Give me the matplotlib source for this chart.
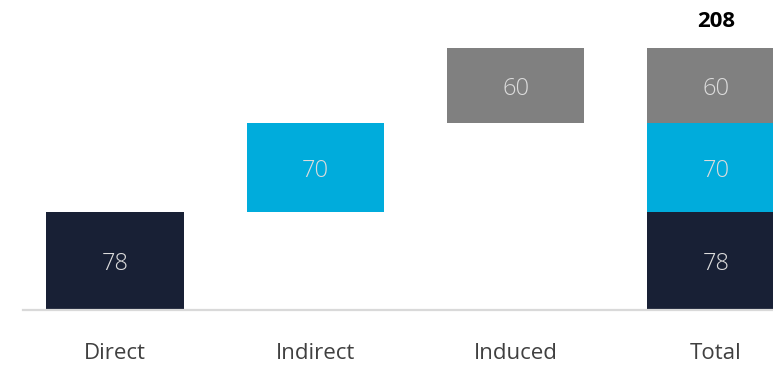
import matplotlib.pyplot as plt

# Data
categories = ["Direct", "Indirect", "Induced", "Total"]
direct = [78, 0, 0, 78]
indirect = [0, 70, 0, 70]
induced = [0, 0, 60, 60]
total = 208

plt.rcParams["font.family"] = ["Open Sans", "DejaVu Sans"]

colors = {"direct": "#182035", "indirect": "#00acdc", "induced": "#808080"}

fig = plt.figure(figsize=(7.73, 3.67), dpi=100)
ax = fig.add_axes([23 / 773, 57 / 367, 750 / 773, 310 / 367])

x = list(range(len(categories)))
w = 0.685

# Floating (waterfall) bars
bottoms_ind = [direct[0] if v else 0 for v in indirect]
bottoms_indu = [direct[0] + indirect[1] if v else 0 for v in induced]

series = [
    ("direct", direct, [0] * 4),
    ("indirect", indirect, bottoms_ind),
    ("induced", induced, bottoms_indu),
]
for key, vals, bots in series:
    for xi, v, b in zip(x, vals, bots):
        if v == 0:
            continue
        ax.bar(xi, v, bottom=b, width=w, color=colors[key], linewidth=0)
        ax.text(xi, b + v / 2, str(v), ha="center", va="center_baseline",
                color="#dcdcdc", fontsize=17, fontweight="light")

ax.text(3, total + 13, str(total), ha="center", va="bottom",
        fontsize=16, fontweight="bold", color="black")

ax.set_xlim(-0.459, 3.285)
ax.set_ylim(0, 246)
ax.set_xticks(x)
ax.set_xticklabels(categories, fontsize=16, color="#404040")
ax.tick_params(axis="x", length=0, pad=24)
ax.set_yticks([])
for s in ["top", "right", "left"]:
    ax.spines[s].set_visible(False)
ax.spines["bottom"].set_color("#d9d9d9")
ax.spines["bottom"].set_linewidth(1.6)

fig.savefig("out.png", dpi=100)
